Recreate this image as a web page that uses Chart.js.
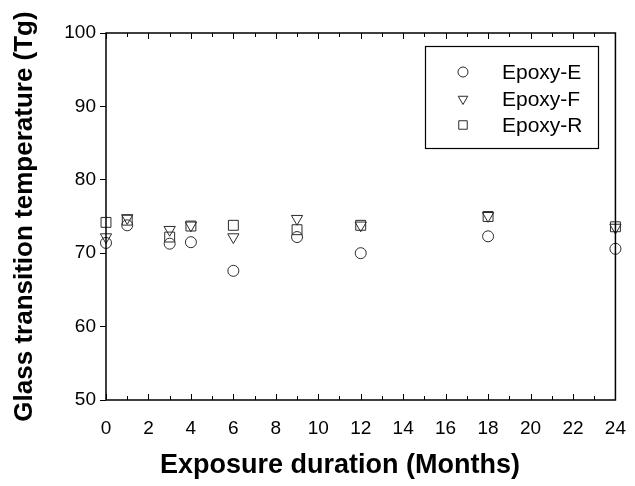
<!DOCTYPE html>
<html>
<head>
<meta charset="utf-8">
<script src="https://cdn.jsdelivr.net/npm/chart.js@4"></script>
<style>
  html, body { margin: 0; padding: 0; background: #fff; }
  #wrap { width: 635px; height: 486px; }
</style>
</head>
<body>
<div id="wrap"><canvas id="tgChart" width="635" height="486"></canvas></div>
<script>
const months = [0, 1, 3, 4, 6, 9, 12, 18, 24];
const epoxyE = [71.4, 73.8, 71.3, 71.5, 67.6, 72.2, 70.0, 72.3, 70.6];
const epoxyF = [72.2, 74.8, 73.2, 73.8, 72.2, 74.7, 73.8, 75.1, 73.5];
const epoxyR = [74.2, 74.5, 72.2, 73.7, 73.8, 73.2, 73.8, 75.0, 73.6];
const yTicks = [50, 60, 70, 80, 90, 100];
const xTicks = [0, 2, 4, 6, 8, 10, 12, 14, 16, 18, 20, 22, 24];
const xTitle = 'Exposure duration (Months)';

const INK = '#2a2a2a';
const FONT = '"Liberation Sans", Arial, sans-serif';

function toPoints(vals) {
    return months.map((m, i) => ({ x: m, y: vals[i] }));
}

// frame + inward ticks on top/bottom, x title and the legend box
const framePlugin = {
    id: 'frame',
    afterDraw(chart) {
        const { ctx, chartArea: a, scales } = chart;
        const xs = scales.x;
        ctx.save();
        ctx.strokeStyle = '#000';
        ctx.lineWidth = 1.5;
        ctx.strokeRect(a.left, a.top, a.right - a.left, a.bottom - a.top);
        ctx.lineWidth = 1;
        ctx.beginPath();
        for (let m = xs.min; m <= xs.max; m++) {
            const px = Math.round(xs.getPixelForValue(m)) + 0.5;
            const len = m % 2 === 0 ? 6 : 4;
            ctx.moveTo(px, a.bottom);
            ctx.lineTo(px, a.bottom - len);
            ctx.moveTo(px, a.top);
            ctx.lineTo(px, a.top + len);
        }
        ctx.stroke();

        // x title (sits a bit left of the plot centre in the original)
        ctx.fillStyle = '#000';
        ctx.font = 'bold 27px ' + FONT;
        ctx.textAlign = 'center';
        ctx.textBaseline = 'middle';
        ctx.fillText(xTitle, 340, 466);

        // legend
        const box = { x: 425.5, y: 46.5, w: 173, h: 102 };
        ctx.lineWidth = 1.2;
        ctx.strokeStyle = '#000';
        ctx.fillStyle = '#fff';
        ctx.fillRect(box.x, box.y, box.w, box.h);
        ctx.strokeRect(box.x, box.y, box.w, box.h);
        ctx.font = '21px ' + FONT;
        ctx.textAlign = 'left';
        const rows = [72, 99, 125];
        chart.data.datasets.forEach((ds, i) => {
            ctx.strokeStyle = INK;
            ctx.fillStyle = '#fff';
            ctx.lineWidth = 1;
            Chart.helpers.drawPoint(ctx, {
                pointStyle: ds.pointStyle,
                radius: ds.legendRadius,
                rotation: ds.rotation || 0,
                borderWidth: 1
            }, 463, rows[i]);
            ctx.fillStyle = '#000';
            ctx.fillText(ds.label, 502, rows[i] + 1);
        });
        ctx.restore();
    }
};

const baseDs = {
    backgroundColor: 'rgba(255,255,255,0)',
    borderColor: INK,
    borderWidth: 1,
    pointHoverRadius: 6,
    clip: false
};

new Chart(document.getElementById('tgChart'), {
    type: 'scatter',
    data: {
        datasets: [
            Object.assign({}, baseDs, { label: 'Epoxy-E', data: toPoints(epoxyE), pointStyle: 'circle', pointRadius: 5.5, legendRadius: 5 }),
            Object.assign({}, baseDs, { label: 'Epoxy-F', data: toPoints(epoxyF), pointStyle: 'triangle', pointRadius: 6.5, rotation: 180, pointRotation: 180, legendRadius: 5.5 }),
            Object.assign({}, baseDs, { label: 'Epoxy-R', data: toPoints(epoxyR), pointStyle: 'rect', pointRadius: 7, legendRadius: 6 })
        ]
    },
    options: {
        responsive: false,
        animation: false,
        layout: { padding: { top: 33, right: 18, left: 0, bottom: 0 } },
        plugins: {
            legend: { display: false },
            tooltip: { enabled: false }
        },
        scales: {
            x: {
                type: 'linear',
                min: 0,
                max: 24,
                afterBuildTicks: s => { s.ticks = xTicks.map(v => ({ value: v })); },
                afterFit: s => { s.height = 86; },
                grid: { display: false },
                border: { display: false },
                ticks: {
                    padding: 9,
                    color: '#000',
                    font: { family: FONT, size: 19 },
                    maxRotation: 0
                },
                title: { display: false }
            },
            y: {
                min: 50,
                max: 100,
                afterBuildTicks: s => { s.ticks = yTicks.map(v => ({ value: v })); },
                afterFit: s => { s.width = 106; },
                grid: {
                    drawOnChartArea: false,
                    drawTicks: true,
                    tickLength: 6,
                    tickColor: '#000',
                    tickWidth: 1
                },
                border: { display: false },
                ticks: {
                    padding: 4,
                    color: '#000',
                    font: { family: FONT, size: 19 }
                },
                title: {
                    display: true,
                    text: 'Glass transition temperature (Tg)',
                    color: '#000',
                    font: { family: FONT, size: 26, weight: 'bold' },
                    padding: { top: 9, bottom: 0 }
                }
            }
        }
    },
    plugins: [framePlugin]
});
</script>
</body>
</html>
